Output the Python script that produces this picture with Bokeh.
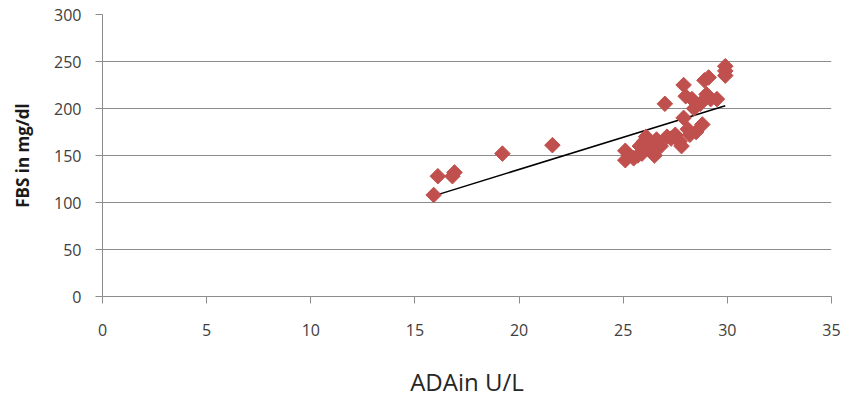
import numpy as np
from bokeh.plotting import figure
from bokeh.models import Range1d, FixedTicker
from bokeh.embed import file_html
from bokeh.resources import INLINE

# ADA (U/L) and FBS (mg/dl)
ada = [15.9, 16.1, 16.8, 16.9, 19.2, 21.6,
       25.1, 25.1, 25.3, 25.5, 25.7, 25.8, 25.9, 26.0, 26.1, 26.2, 26.3, 26.5,
       26.6, 26.8, 27.0, 27.1, 27.3, 27.5, 27.7, 27.8, 27.9, 27.9, 28.0, 28.1,
       28.2, 28.3, 28.4, 28.5, 28.7, 28.8, 28.9, 29.0, 29.1, 29.2, 29.5, 29.9,
       29.9, 29.9]
fbs = [108, 128, 128, 132, 152, 161,
       145, 155, 150, 147, 150, 160, 152, 165, 170, 158, 162, 150,
       167, 160, 205, 170, 168, 172, 165, 160, 190, 225, 213, 178,
       172, 210, 200, 175, 205, 183, 230, 215, 233, 210, 210, 235,
       240, 245]

x_ticks = [0, 5, 10, 15, 20, 25, 30, 35]
y_ticks = [0, 50, 100, 150, 200, 250, 300]

FONT = "Open Sans"
TXT = "#404040"
GRID = "#8c8c8c"

p = figure(width=842, height=400, output_backend="svg", toolbar_location=None,
           x_range=Range1d(0, 35), y_range=Range1d(0, 300),
           min_border_left=102, min_border_right=11, min_border_top=14,
           min_border_bottom=103)
p.outline_line_color = None
p.background_fill_color = "white"
p.border_fill_color = "white"

p.xgrid.grid_line_color = None
p.ygrid.grid_line_color = GRID
p.ygrid.grid_line_width = 1
p.ygrid.ticker = FixedTicker(ticks=y_ticks)

for ax in (p.xaxis[0], p.yaxis[0]):
    ax.axis_line_color = GRID
    ax.major_tick_line_color = GRID
    ax.minor_tick_line_color = None
    ax.major_tick_in = 0
    ax.major_tick_out = 7
    ax.major_label_text_font = FONT
    ax.major_label_text_font_size = "16px"
    ax.major_label_text_color = TXT

p.xaxis.ticker = FixedTicker(ticks=x_ticks)
p.yaxis.ticker = FixedTicker(ticks=y_ticks)
p.xaxis.major_label_standoff = 20
p.yaxis.major_label_standoff = 14

p.xaxis.axis_label = "ADAin U/L"
p.xaxis.axis_label_text_font = FONT
p.xaxis.axis_label_text_font_size = "24px"
p.xaxis.axis_label_text_font_style = "normal"
p.xaxis.axis_label_text_color = "#262626"
p.xaxis.axis_label_standoff = 26

p.yaxis.axis_label = "FBS in mg/dl"
p.yaxis.axis_label_text_font = FONT
p.yaxis.axis_label_text_font_size = "17px"
p.yaxis.axis_label_text_font_style = "bold"
p.yaxis.axis_label_text_color = "#1a1a1a"
p.yaxis.axis_label_standoff = 17

# linear trend line (least squares) across the data's x extent
xa = np.array(ada, dtype=float)
ya = np.array(fbs, dtype=float)
slope, intercept = np.polyfit(xa, ya, 1)
tx = np.array([xa.min(), xa.max()])
p.line(tx, slope * tx + intercept, line_color="black", line_width=1.5)

p.scatter(ada, fbs, marker="square", angle=np.pi / 4, size=11,
          fill_color="#C0504D", line_color="#C0504D")

open("out.html", "w").write(file_html(p, INLINE))
